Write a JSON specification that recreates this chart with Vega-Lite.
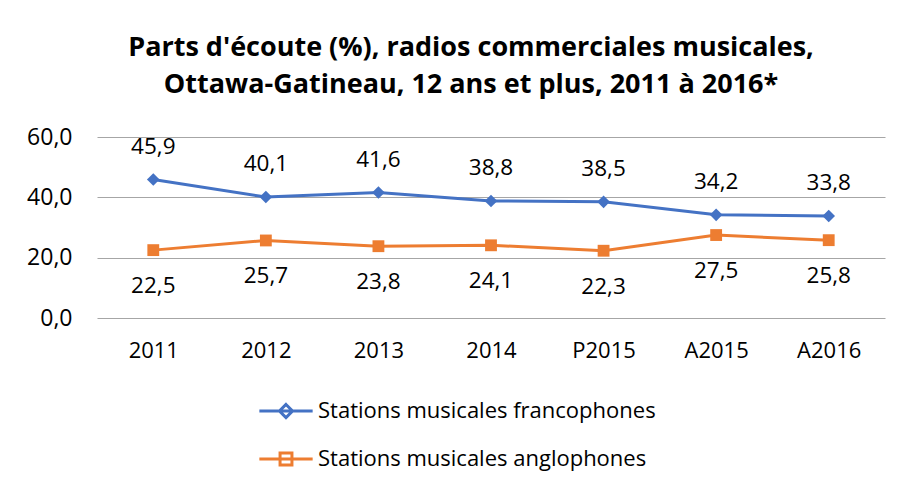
{
  "$schema": "https://vega.github.io/schema/vega-lite/v6.json",
  "autosize": "none",
  "width": 788,
  "height": 181,
  "padding": {"left": 97, "top": 137, "right": 17, "bottom": 168},
  "background": "white",
  "config": {
    "locale": {"number": {"decimal": ",", "thousands": " ", "grouping": [3], "currency": ["", " $"]}},
    "font": "Open Sans",
    "view": {"stroke": null}
  },
  "title": {
    "text": ["Parts d'écoute (%), radios commerciales musicales,", "Ottawa-Gatineau, 12 ans et plus, 2011 à 2016*"],
    "fontSize": 27,
    "fontWeight": "bold",
    "font": "Open Sans",
    "lineHeight": 37,
    "color": "#000000",
    "anchor": "middle",
    "dx": -20,
    "offset": 27
  },
  "data": {
    "values": [
      {"annee": "2011", "serie": "Stations musicales francophones", "part": 45.9},
      {"annee": "2012", "serie": "Stations musicales francophones", "part": 40.1},
      {"annee": "2013", "serie": "Stations musicales francophones", "part": 41.6},
      {"annee": "2014", "serie": "Stations musicales francophones", "part": 38.8},
      {"annee": "P2015", "serie": "Stations musicales francophones", "part": 38.5},
      {"annee": "A2015", "serie": "Stations musicales francophones", "part": 34.2},
      {"annee": "A2016", "serie": "Stations musicales francophones", "part": 33.8},
      {"annee": "2011", "serie": "Stations musicales anglophones", "part": 22.5},
      {"annee": "2012", "serie": "Stations musicales anglophones", "part": 25.7},
      {"annee": "2013", "serie": "Stations musicales anglophones", "part": 23.8},
      {"annee": "2014", "serie": "Stations musicales anglophones", "part": 24.1},
      {"annee": "P2015", "serie": "Stations musicales anglophones", "part": 22.3},
      {"annee": "A2015", "serie": "Stations musicales anglophones", "part": 27.5},
      {"annee": "A2016", "serie": "Stations musicales anglophones", "part": 25.8}
    ]
  },
  "encoding": {
    "x": {
      "field": "annee", "type": "nominal",
      "scale": {"domain": ["2011", "2012", "2013", "2014", "P2015", "A2015", "A2016"], "paddingInner": 0, "paddingOuter": 0.5},
      "axis": {"title": null, "labelAngle": 0, "labelFontSize": 22, "labelColor": "#000000", "labelPadding": 22, "ticks": false, "domain": false}
    },
    "y": {
      "field": "part", "type": "quantitative",
      "scale": {"domain": [0, 60], "nice": false},
      "axis": {"title": null, "values": [0, 20, 40, 60], "format": ".1f", "labelFontSize": 23, "labelColor": "#000000", "labelPadding": 25, "ticks": false, "domain": false, "gridColor": "#a6a6a6", "gridWidth": 1.2}
    }
  },
  "layer": [
    {
      "mark": {"type": "point", "filled": true, "opacity": 0, "size": 150},
      "encoding": {
        "fill": {
          "field": "serie", "type": "nominal",
          "scale": {"domain": ["Stations musicales francophones", "Stations musicales anglophones"], "range": ["#4472C4", "#ED7D31"]},
          "legend": {
            "title": null,
            "orient": "none",
            "legendX": 167,
            "legendY": 252,
            "direction": "vertical",
            "symbolSize": 1681,
            "labelFontSize": 22,
            "labelLimit": 600,
            "labelColor": "#000000",
            "labelOffset": 10,
            "rowPadding": 13,
            "symbolStrokeWidth": 3,
            "symbolOpacity": 1,
            "symbolFillColor": "#4472C4"
          }
        },
        "shape": {
          "field": "serie", "type": "nominal",
          "scale": {"domain": ["Stations musicales francophones", "Stations musicales anglophones"], "range": ["M-1.3,0H1.3M0,-0.32L0.32,0L0,0.32L-0.32,0Z", "M-1.3,0H1.3M-0.29,-0.29H0.29V0.29H-0.29Z"]}
        },
        "stroke": {
          "field": "serie", "type": "nominal",
          "scale": {"domain": ["Stations musicales francophones", "Stations musicales anglophones"], "range": ["#4472C4", "#ED7D31"]}
        }
      }
    },
    {
      "mark": {"type": "line", "strokeWidth": 3},
      "encoding": {"stroke": {"field": "serie", "type": "nominal"}}
    },
    {
      "transform": [{"filter": "datum.serie === 'Stations musicales francophones'"}],
      "mark": {"type": "point", "filled": true, "opacity": 1, "size": 160, "shape": "diamond"},
      "encoding": {"fill": {"field": "serie", "type": "nominal"}}
    },
    {
      "transform": [{"filter": "datum.serie === 'Stations musicales anglophones'"}],
      "mark": {"type": "point", "filled": true, "opacity": 1, "size": 140, "shape": "square"},
      "encoding": {"fill": {"field": "serie", "type": "nominal"}}
    },
    {
      "transform": [{"filter": "datum.serie === 'Stations musicales francophones'"}],
      "mark": {"type": "text", "dy": -33, "fontSize": 22.5, "color": "#000000", "baseline": "middle"},
      "encoding": {"text": {"field": "part", "type": "quantitative", "format": ".1f"}}
    },
    {
      "transform": [{"filter": "datum.serie === 'Stations musicales anglophones'"}],
      "mark": {"type": "text", "dy": 36, "fontSize": 22.5, "color": "#000000", "baseline": "middle"},
      "encoding": {"text": {"field": "part", "type": "quantitative", "format": ".1f"}}
    }
  ]
}
